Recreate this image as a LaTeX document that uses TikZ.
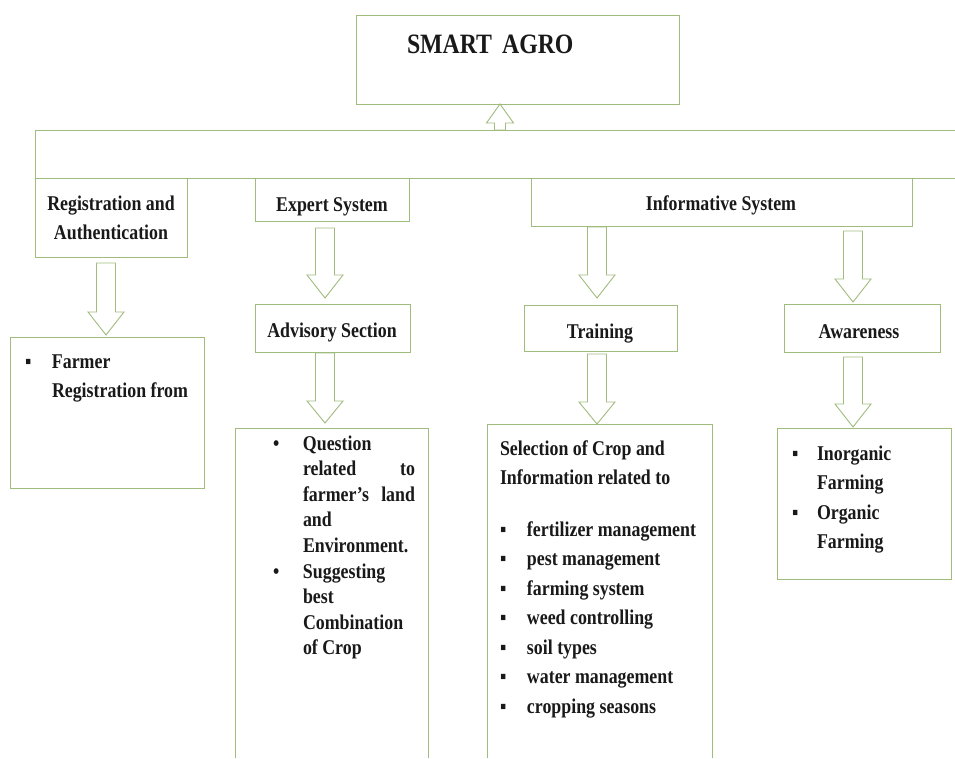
\documentclass[tikz,border=0pt]{standalone}
\usepackage{fontspec}
\setmainfont{Liberation Serif}[FakeStretch=0.85]
\usetikzlibrary{calc}

\definecolor{frame}{RGB}{160,188,125}
\definecolor{ink}{RGB}{25,25,25}

\tikzset{
  box/.style={draw=frame, line width=1pt, inner sep=0pt, outer sep=0pt, anchor=north west},
  openbox/.style={draw=none, inner sep=0pt, outer sep=0pt, anchor=north west},
  edgeline/.style={draw=frame, line width=1pt},
  hollow/.style={draw=frame, line width=0.9pt, line join=miter},
  label/.style={inner sep=0pt, outer sep=0pt, text=ink, font=\fontsize{21}{29.5}\selectfont\bfseries},
  titletext/.style={inner sep=0pt, outer sep=0pt, text=ink, font=\fontsize{28}{32}\selectfont\bfseries},
}

% hollow block arrow: start, tip, shaft half-width, head half-width, head length
\newcommand\hollowarrow[5]{%
  \path ($(#2)!#5!(#1)$) coordinate (hb);
  \draw[hollow] ($(#1)!#3!90:(#2)$) -- ($(hb)!#3!90:(#2)$) -- ($(hb)!#4!90:(#2)$)
    -- (#2) -- ($(hb)!#4!-90:(#2)$) -- ($(hb)!#3!-90:(#2)$) -- ($(#1)!#3!-90:(#2)$) -- cycle;
}

\begin{document}
\begin{tikzpicture}[x=1pt, y=-1pt]
\useasboundingbox (0,0) rectangle (955,758);
\fill[white] (0,0) rectangle (955,758);

% ---- boxes ----
\node[box, minimum width=323, minimum height=89] (top) at (356,15) {};
\node[openbox, minimum width=920, minimum height=48] (band) at (35,130) {};
\draw[edgeline] (band.north east) -- (band.north west) -- (band.south west) -- (band.south east);

\node[box, minimum width=152, minimum height=79] (reg) at (35,178) {};
\node[box, minimum width=154, minimum height=43] (expert) at (255,178) {};
\node[box, minimum width=381, minimum height=48] (info) at (531,178) {};

\node[box, minimum width=155, minimum height=48] (advisory) at (255,304) {};
\node[box, minimum width=153, minimum height=46] (training) at (524,305) {};
\node[box, minimum width=156, minimum height=48] (awareness) at (784,304) {};

\node[box, minimum width=194, minimum height=151] (farmer) at (10,337) {};
\node[openbox, minimum width=193, minimum height=330] (question) at (235,428) {};
\draw[edgeline] (question.south west) -- (question.north west) -- (question.north east) -- (question.south east);
\node[openbox, minimum width=225, minimum height=334] (selection) at (487,424) {};
\draw[edgeline] (selection.south west) -- (selection.north west) -- (selection.north east) -- (selection.south east);
\node[box, minimum width=174, minimum height=151] (farming) at (777,428) {};

% ---- hollow arrows ----
\coordinate (upS) at (500,130);   \coordinate (upT) at (500,104);
\hollowarrow{upS}{upT}{5.5pt}{13.5pt}{19pt}

\coordinate (regS) at (106,263);  \coordinate (regT) at (106,335);
\hollowarrow{regS}{regT}{9.5pt}{18pt}{23pt}
\coordinate (expS) at (325,228);  \coordinate (expT) at (325,298);
\hollowarrow{expS}{expT}{9.5pt}{18pt}{23pt}
\coordinate (advS) at (325,353);  \coordinate (advT) at (325,423);
\hollowarrow{advS}{advT}{9.5pt}{18pt}{22pt}
\coordinate (infS1) at (597,227); \coordinate (infT1) at (597,298);
\hollowarrow{infS1}{infT1}{9.5pt}{18pt}{23pt}
\coordinate (infS2) at (853,231); \coordinate (infT2) at (853,302);
\hollowarrow{infS2}{infT2}{9.5pt}{18pt}{23pt}
\coordinate (trnS) at (597,354);  \coordinate (trnT) at (597,424);
\hollowarrow{trnS}{trnT}{9.5pt}{18pt}{22pt}
\coordinate (awrS) at (853,357);  \coordinate (awrT) at (853,427);
\hollowarrow{awrS}{awrT}{9.5pt}{18pt}{23pt}

% ---- texts ----
\node[titletext, anchor=base west] (topText) at (407,53) {SMART\hspace{10pt}AGRO};

\node[label, anchor=base] (regText) at (111,210)
  {\begin{tabular}[t]{@{}c@{}}Registration and\\ Authentication\end{tabular}};
\node[label, anchor=base] (expertText) at (332,211) {Expert System};
\node[label, anchor=base] (infoText) at (721,210) {Informative System};
\node[label, anchor=base] (advisoryText) at (332,337) {Advisory Section};
\node[label, anchor=base] (trainingText) at (600,338) {Training};
\node[label, anchor=base] (awarenessText) at (859,338) {Awareness};

\node[label, anchor=base west] (farmerText) at (25,368)
  {\begin{tabular}[t]{@{}p{27pt}@{}l@{}}▪ & Farmer\\ & Registration from\end{tabular}};

\node[label, anchor=base west, font=\fontsize{21}{25.6}\selectfont\bfseries] (questionText) at (273,450)
  {\begin{tabular}[t]{@{}p{30pt}@{}l@{}}
   • & Question\\
     & \makebox[112pt][s]{related to}\\
     & \makebox[112pt][s]{farmer’s land}\\
     & and\\
     & Environment.\\
   • & Suggesting\\
     & best\\
     & Combination\\
     & of Crop
  \end{tabular}};

\node[label, anchor=base west] (selectionText) at (500,455)
  {\begin{tabular}[t]{@{}p{27pt}@{}l@{}}
   \multicolumn{2}{@{}l@{}}{Selection of Crop and}\\
   \multicolumn{2}{@{}l@{}}{Information related to}\\[22pt]
   ▪ & fertilizer management\\
   ▪ & pest management\\
   ▪ & farming system\\
   ▪ & weed controlling\\
   ▪ & soil types\\
   ▪ & water management\\
   ▪ & cropping seasons
  \end{tabular}};

\node[label, anchor=base west] (farmingText) at (792,460)
  {\begin{tabular}[t]{@{}p{25pt}@{}l@{}}
   ▪ & Inorganic\\
     & Farming\\
   ▪ & Organic\\
     & Farming
  \end{tabular}};
\end{tikzpicture}
\end{document}
